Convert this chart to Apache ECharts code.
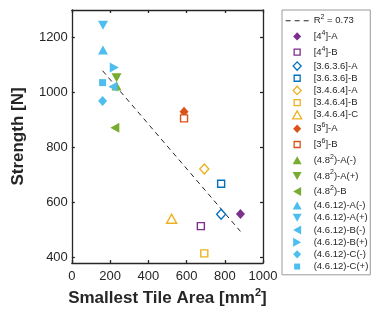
<!DOCTYPE html>
<html><head><meta charset="utf-8">
<script src="https://cdn.jsdelivr.net/npm/echarts@6/dist/echarts.min.js"></script>
<style>html,body{margin:0;padding:0;background:#fff}#c{width:374px;height:312px}</style>
</head><body><div id="c"></div>
<script>
// ---- data ----
const seriesNames = ['[4^4]-A','[4^4]-B','[3.6.3.6]-A','[3.6.3.6]-B','[3.4.6.4]-A','[3.4.6.4]-B','[3.4.6.4]-C','[3^6]-A','[3^6]-B','(4.8^2)-A(-)','(4.8^2)-A(+)','(4.8^2)-B','(4.6.12)-A(-)','(4.6.12)-A(+)','(4.6.12)-B(-)','(4.6.12)-B(+)','(4.6.12)-C(-)','(4.6.12)-C(+)'];
const tileArea = [882, 675, 781, 781, 693, 693, 522, 587, 587, 234, 234, 225, 163, 163, 215, 222, 161, 161];
const strength = [558, 514, 557, 668, 722, 415, 541, 930, 906, 1024, 1054, 872, 1155, 1245, 1021, 1091, 969, 1036];
const fitX = [161, 882];
const fitY = [1079, 495];
const fitLabel = 'R^2 = 0.73';
const xTicks = [0, 200, 400, 600, 800, 1000];
const yTicks = [400, 600, 800, 1000, 1200];
const xTitle = 'Smallest Tile Area [mm^2]';
const yTitle = 'Strength [N]';

// ---- styles ----
const C = {pu:'#7E2F8E', bl:'#0072BD', ye:'#EDB120', re:'#D95319', gr:'#77AC30', cy:'#4DBEEE'};
const colors = [C.pu,C.pu,C.bl,C.bl,C.ye,C.ye,C.ye,C.re,C.re,C.gr,C.gr,C.gr,C.cy,C.cy,C.cy,C.cy,C.cy,C.cy];
const markers = ['dia','sq','dia','sq','dia','sq','up','dia','sq','up','down','left','up','down','left','right','dia','sq'];
const filled = [1,0,0,0,0,0,0,1,0,1,1,1,1,1,1,1,1,1];
const symbolOf = {dia: 'diamond', sq: 'rect', up: 'triangle', down: 'triangle', left: 'triangle', right: 'triangle'};
const rotateOf = {dia: 0, sq: 0, up: 0, down: 180, left: 90, right: -90};
const sizeOf = {dia: [9, 10], sq: [7, 7], up: [10, 9], down: [10, 9], left: [10, 9], right: [10, 9]};
// legend icons drawn in a 23x9 box (extent points keep scale 1)
const EXT = 'M0,0L0,0M23,9L23,9';
const iconOf = {
  dia:   'path://' + EXT + 'M11.5,0.3L15.5,4.5L11.5,8.7L7.5,4.5Z',
  sq:    'path://' + EXT + 'M8.5,1.5L14.5,1.5L14.5,7.5L8.5,7.5Z',
  up:    'path://' + EXT + 'M11.5,0.5L16,8.5L7,8.5Z',
  down:  'path://' + EXT + 'M7,0.5L16,0.5L11.5,8.5Z',
  left:  'path://' + EXT + 'M7.5,4.5L15.5,0L15.5,9Z',
  right: 'path://' + EXT + 'M7.5,0L15.5,4.5L7.5,9Z'
};

function supRich(name){
  if (name.indexOf('^') < 0) return name;
  const m = name.match(/^(.*)\^(\d)(.*)$/);
  return '{t|' + m[1] + '}{s|' + m[2] + '}' + (m[3] ? '{t|' + m[3] + '}' : '');
}

const series = [{
  name: fitLabel, type: 'line', symbol: 'none', silent: true,
  data: fitX.map((x, i) => [x, fitY[i]]),
  lineStyle: {color: '#262626', width: 1, type: [5, 4]},
  itemStyle: {color: '#262626'},
  z: 1
}];
seriesNames.forEach((n, i) => {
  const mk = markers[i];
  series.push({
    name: n, type: 'scatter',
    data: [[tileArea[i], strength[i]]],
    symbol: symbolOf[mk], symbolSize: sizeOf[mk], symbolRotate: rotateOf[mk],
    itemStyle: filled[i] ? {color: colors[i], borderWidth: 0, opacity: 1}
                         : {color: '#ffffff', borderColor: colors[i], borderWidth: 1.4, opacity: 1},
    z: 3
  });
});

const legendData = [{
  name: fitLabel,
  icon: 'path://M0,4L5,4L5,5L0,5Z M9,4L14,4L14,5L9,5Z M18,4L23,4L23,5L18,5Z' + EXT,
  itemStyle: {color: '#262626', borderWidth: 0}
}].concat(seriesNames.map((n, i) => ({
  name: n,
  icon: iconOf[markers[i]],
  itemStyle: filled[i] ? {color: colors[i], borderWidth: 0}
                       : {color: '#ffffff', borderColor: colors[i], borderWidth: 1.3}
})));

const axisCol = '#262626';
const chart = echarts.init(document.getElementById('c'), null, {renderer: 'canvas'});
chart.setOption({
  animation: false,
  backgroundColor: '#ffffff',
  textStyle: {fontFamily: 'Liberation Sans, Arial, sans-serif'},
  grid: {left: 62, top: 10, right: 111, bottom: 49, containLabel: false},
  xAxis: [{
    type: 'value', min: 0, max: 1000, interval: 200,
    name: supRich(xTitle), nameLocation: 'middle', nameGap: 14,
    nameTextStyle: {color: axisCol, fontFamily: 'Liberation Sans, Arial, sans-serif',
      rich: {t: {fontSize: 17, fontWeight: 'bold', lineHeight: 20, color: axisCol, fontFamily: 'Liberation Sans'},
             s: {fontSize: 11, fontWeight: 'bold', lineHeight: 11, verticalAlign: 'top', color: axisCol, fontFamily: 'Liberation Sans'}}},
    axisLine: {onZero: false, lineStyle: {color: axisCol, width: 1.3}},
    axisTick: {inside: true, length: 3, lineStyle: {color: axisCol, width: 1.3}, customValues: xTicks},
    axisLabel: {color: axisCol, fontSize: 13, margin: 7, customValues: xTicks, fontFamily: 'Liberation Sans', formatter: v => String(v)},
    splitLine: {show: false}
  }, {
    type: 'value', min: 0, max: 1000, interval: 200, position: 'top',
    axisLine: {onZero: false, lineStyle: {color: axisCol, width: 1.3}},
    axisTick: {inside: true, length: 3, lineStyle: {color: axisCol, width: 1.3}, customValues: xTicks},
    axisLabel: {show: false}, splitLine: {show: false}
  }],
  yAxis: [{
    type: 'value', min: 380, max: 1300,
    name: yTitle, nameLocation: 'middle', nameGap: 34,
    nameTextStyle: {color: axisCol, fontSize: 17, fontWeight: 'bold', lineHeight: 20, fontFamily: 'Liberation Sans'},
    axisLine: {onZero: false, lineStyle: {color: axisCol, width: 1.3}},
    axisTick: {inside: true, length: 3, lineStyle: {color: axisCol, width: 1.3}, customValues: yTicks},
    axisLabel: {color: axisCol, fontSize: 13, margin: 4, customValues: yTicks, fontFamily: 'Liberation Sans', formatter: v => String(v)},
    splitLine: {show: false}
  }, {
    type: 'value', min: 380, max: 1300, position: 'right',
    axisLine: {onZero: false, lineStyle: {color: axisCol, width: 1.3}},
    axisTick: {inside: true, length: 3, lineStyle: {color: axisCol, width: 1.3}, customValues: yTicks},
    axisLabel: {show: false}, splitLine: {show: false}
  }],
  legend: {
    orient: 'vertical', left: 282, top: 10,
    padding: [3.7, 2, 3, 3],
    itemWidth: 23, itemHeight: 9, itemGap: 1.7,
    selectedMode: false,
    borderColor: '#9a9a9a', borderWidth: 1, backgroundColor: '#ffffff',
    data: legendData,
    formatter: supRich,
    textStyle: {fontSize: 9.5, color: '#262626', lineHeight: 10.5, fontFamily: 'Liberation Sans',
      rich: {t: {fontSize: 9.5, lineHeight: 14, color: '#262626', fontFamily: 'Liberation Sans'},
             s: {fontSize: 7, lineHeight: 8, verticalAlign: 'top', color: '#262626', fontFamily: 'Liberation Sans'}}}
  },
  series: series
});
</script></body></html>
